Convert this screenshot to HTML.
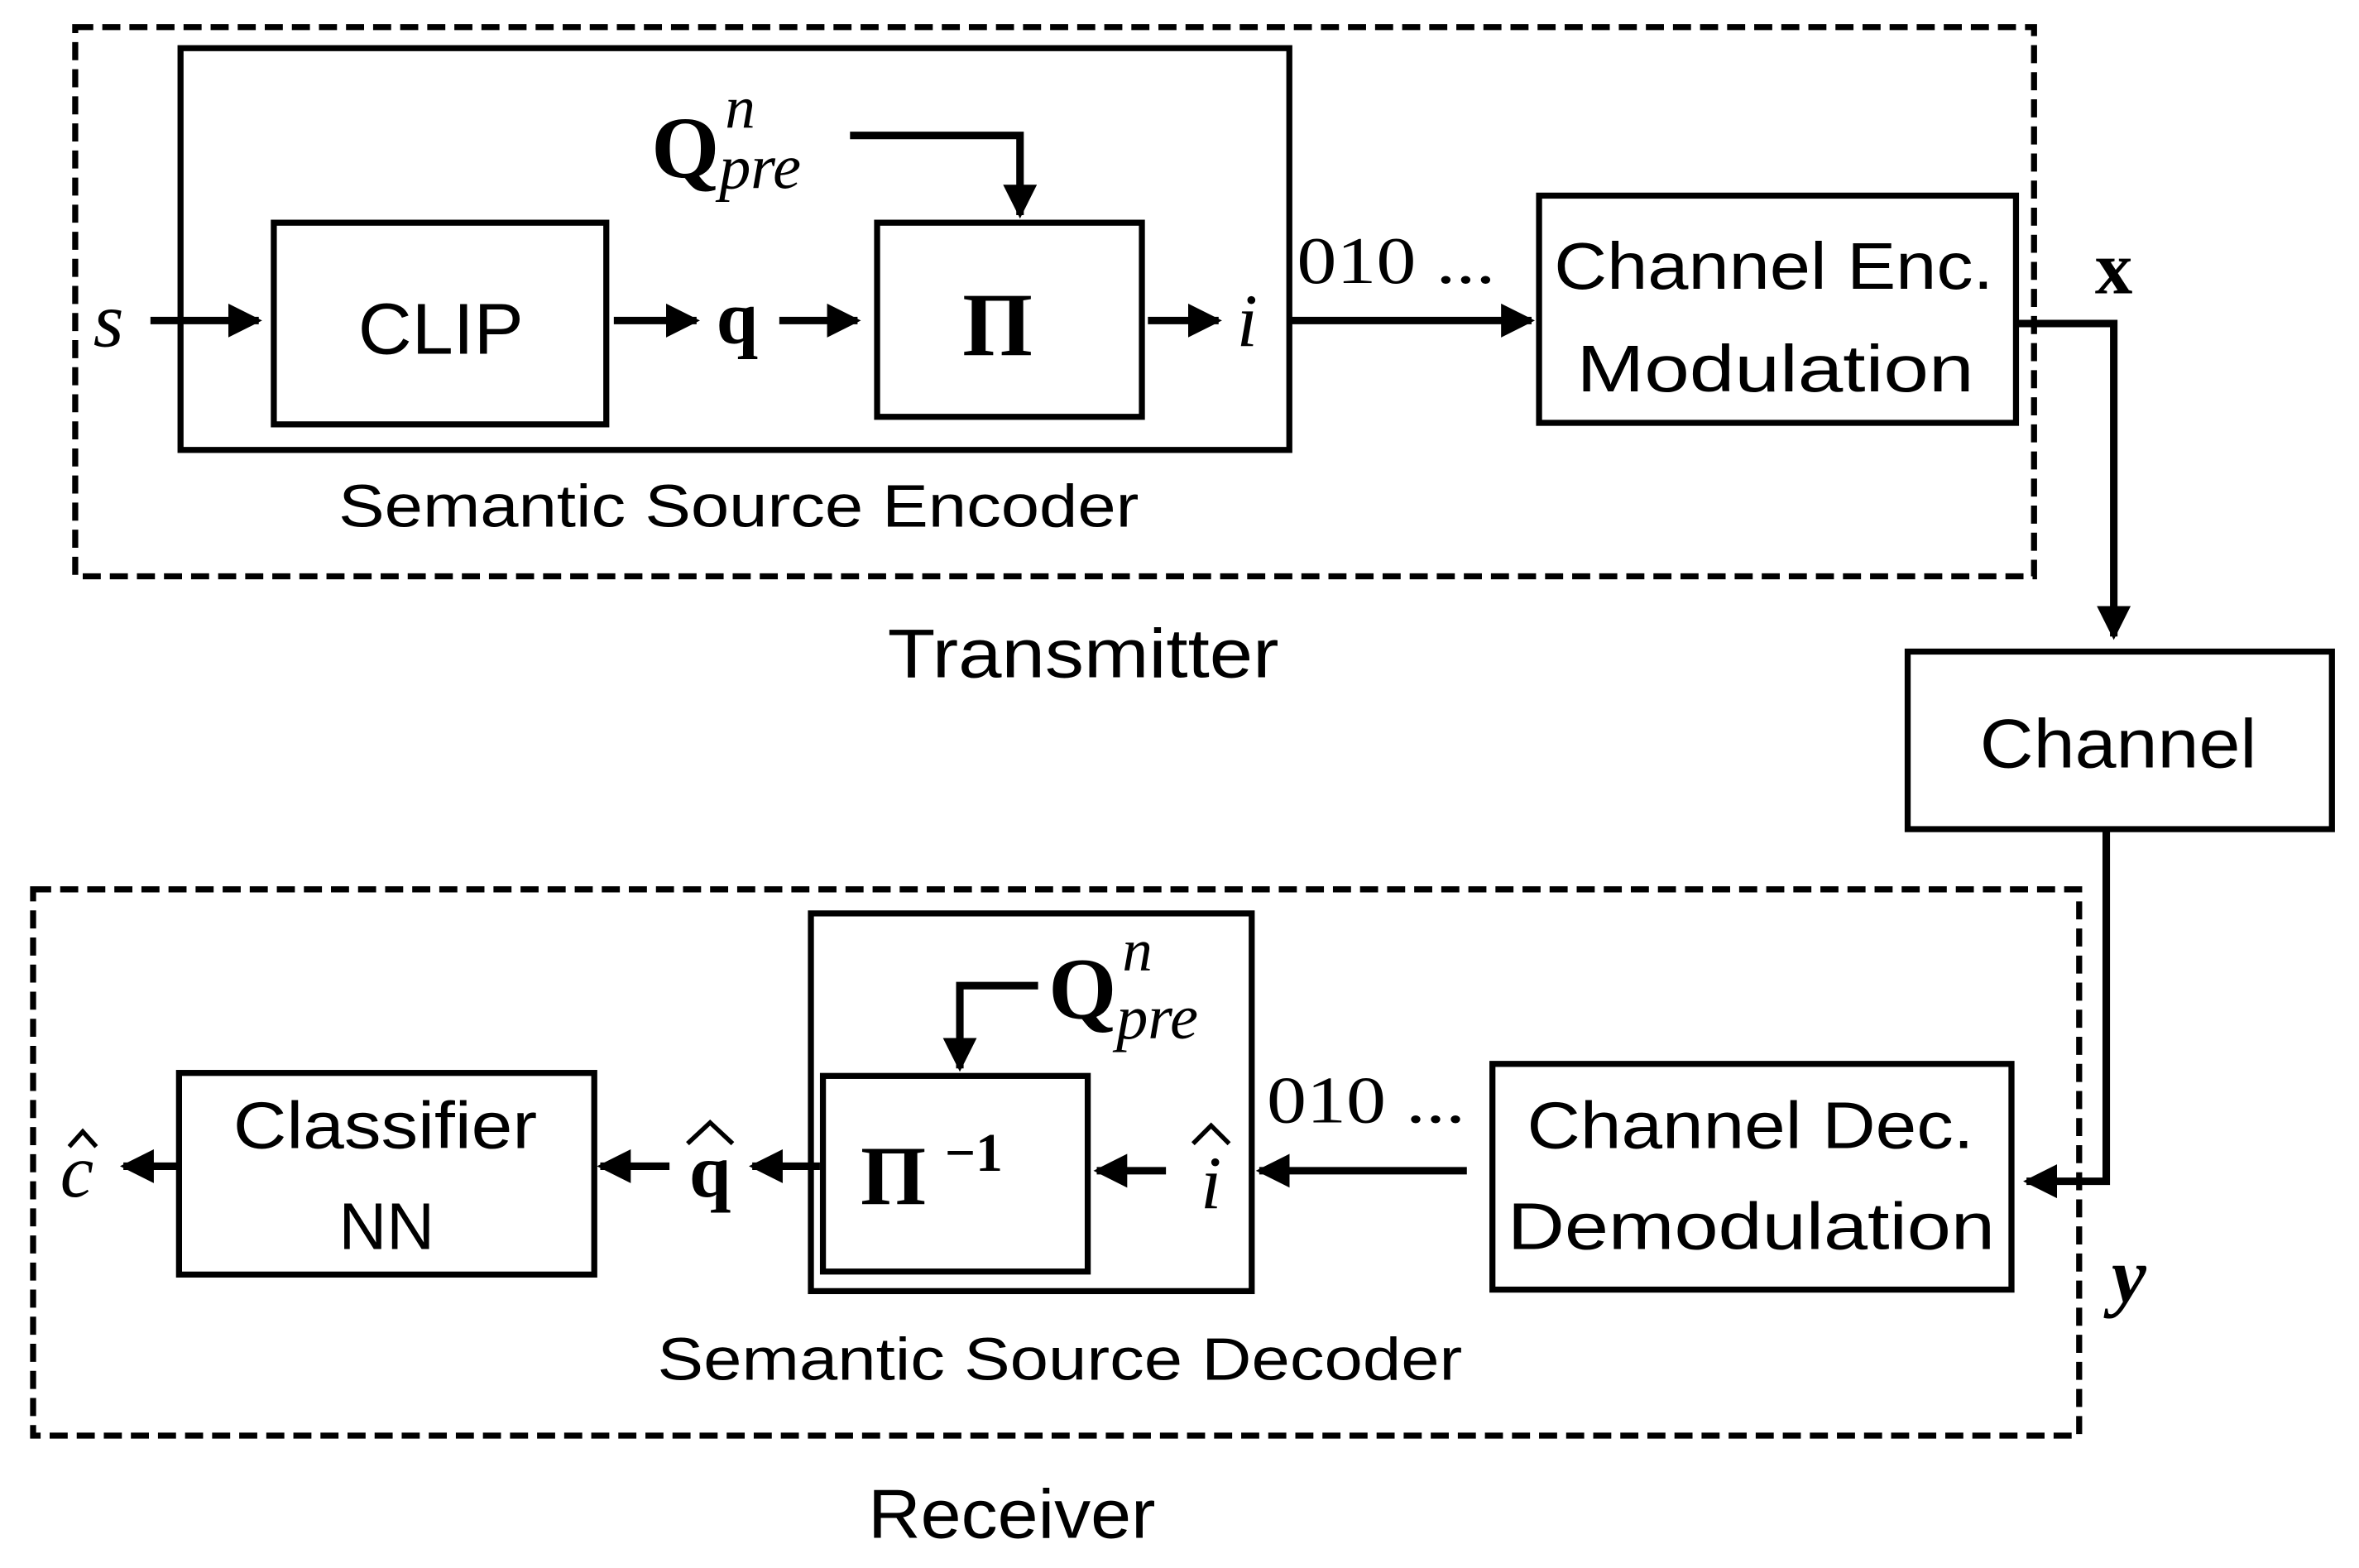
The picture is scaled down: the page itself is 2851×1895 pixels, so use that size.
<!DOCTYPE html>
<html><head><meta charset="utf-8"><style>
html,body{margin:0;padding:0;background:#fff;}
svg{display:block;}
text{font-family:"Liberation Sans",sans-serif;fill:#000;}
.s{font-family:"Liberation Serif",serif;}
</style></head><body>
<svg width="2851" height="1895" viewBox="0 0 1568 1042" preserveAspectRatio="none" xmlns="http://www.w3.org/2000/svg">
<defs>
<marker id="a" viewBox="0 0 10 10" refX="9" refY="5" markerWidth="4.5" markerHeight="4.5" orient="auto" markerUnits="strokeWidth"><path d="M0,0 L10,5 L0,10 z" fill="#000"/></marker>
</defs>
<g fill="none" stroke="#000" stroke-width="4">
<rect x="50" y="18" width="1302" height="365" stroke-dasharray="12,6"/>
<rect x="22" y="591" width="1360" height="363" stroke-dasharray="12,6"/>
<rect x="120" y="32" width="737" height="267"/>
<rect x="182" y="148" width="221" height="134"/>
<rect x="583" y="148" width="176" height="129"/>
<rect x="1023" y="130" width="317" height="151"/>
<rect x="1268" y="433" width="282" height="118"/>
<rect x="539" y="607" width="293" height="251"/>
<rect x="547" y="715" width="176" height="130"/>
<rect x="119" y="713" width="276" height="134"/>
<rect x="992" y="707" width="345" height="150"/>
<g stroke-width="5">
<line x1="100" y1="213" x2="172" y2="213" marker-end="url(#a)"/>
<line x1="408" y1="213" x2="463" y2="213" marker-end="url(#a)"/>
<line x1="518" y1="213" x2="570" y2="213" marker-end="url(#a)"/>
<line x1="763" y1="213" x2="810" y2="213" marker-end="url(#a)"/>
<line x1="857" y1="213" x2="1018" y2="213" marker-end="url(#a)"/>
<polyline points="565,90 678,90 678,143" marker-end="url(#a)"/>
<polyline points="1340,215 1405,215 1405,423" marker-end="url(#a)"/>
<polyline points="1400,551 1400,785 1347,785" marker-end="url(#a)"/>
<line x1="975" y1="778" x2="837" y2="778" marker-end="url(#a)"/>
<line x1="775" y1="778" x2="729" y2="778" marker-end="url(#a)"/>
<line x1="545" y1="775" x2="500" y2="775" marker-end="url(#a)"/>
<line x1="445" y1="775" x2="399" y2="775" marker-end="url(#a)"/>
<line x1="119" y1="775" x2="82" y2="775" marker-end="url(#a)"/>
<polyline points="690,655 638,655 638,710" marker-end="url(#a)"/>
</g>
</g>
<text x="62" y="230" class="s" font-size="52" font-style="italic">s</text>
<text x="238" y="235" font-size="48" textLength="110" lengthAdjust="spacingAndGlyphs">CLIP</text>
<text x="490" y="228" class="s" font-size="50" font-weight="bold" text-anchor="middle">q</text>
<text x="663" y="236" class="s" font-size="60" font-weight="bold" text-anchor="middle">Π</text>
<text x="822" y="230" class="s" font-size="50" font-style="italic">i</text>
<text x="433" y="118" class="s" font-size="58" font-weight="bold">Q</text>
<text x="482" y="85" class="s" font-size="40" font-style="italic">n</text>
<text x="478" y="125" class="s" font-size="42" font-style="italic">pre</text>
<text x="862" y="188" class="s" font-size="44" textLength="132" lengthAdjust="spacingAndGlyphs">010 ...</text>
<text x="1033" y="192" font-size="44" textLength="292" lengthAdjust="spacingAndGlyphs">Channel Enc.</text>
<text x="1048" y="260" font-size="44" textLength="264" lengthAdjust="spacingAndGlyphs">Modulation</text>
<text x="1405" y="195" class="s" font-size="50" font-weight="bold" text-anchor="middle">x</text>
<text x="225" y="350" font-size="40" textLength="532" lengthAdjust="spacingAndGlyphs">Semantic Source Encoder</text>
<text x="590" y="450" font-size="46" textLength="260" lengthAdjust="spacingAndGlyphs">Transmitter</text>
<text x="1316" y="510" font-size="46" textLength="184" lengthAdjust="spacingAndGlyphs">Channel</text>
<text x="1015" y="763" font-size="44" textLength="297" lengthAdjust="spacingAndGlyphs">Channel Dec.</text>
<text x="1002" y="830" font-size="44" textLength="324" lengthAdjust="spacingAndGlyphs">Demodulation</text>
<text x="1415" y="865" class="s" font-size="52" font-weight="bold" font-style="italic" text-anchor="middle">y</text>
<text x="842" y="746" class="s" font-size="44" textLength="132" lengthAdjust="spacingAndGlyphs">010 ...</text>
<text x="697" y="677" class="s" font-size="58" font-weight="bold">Q</text>
<text x="746" y="645" class="s" font-size="40" font-style="italic">n</text>
<text x="742" y="690" class="s" font-size="42" font-style="italic">pre</text>
<text x="572" y="800" class="s" font-size="56" font-weight="bold">Π</text>
<text x="628" y="778" class="s" font-size="36" font-weight="bold">−1</text>
<text x="798" y="803" class="s" font-size="50" font-style="italic">i</text>
<path d="M793,760 L805,748 L817,760" fill="none" stroke="#000" stroke-width="3"/>
<text x="472" y="795" class="s" font-size="50" font-weight="bold" text-anchor="middle">q</text>
<path d="M457,760 L472,746 L487,760" fill="none" stroke="#000" stroke-width="3"/>
<text x="155" y="763" font-size="44" textLength="202" lengthAdjust="spacingAndGlyphs">Classifier</text>
<text x="257" y="830" font-size="44" text-anchor="middle">NN</text>
<text x="40" y="795" class="s" font-size="50" font-style="italic">c</text>
<path d="M46,762 L55,752 L64,762" fill="none" stroke="#000" stroke-width="3"/>
<text x="437" y="917" font-size="40" textLength="535" lengthAdjust="spacingAndGlyphs">Semantic Source Decoder</text>
<text x="577" y="1022" font-size="46" textLength="191" lengthAdjust="spacingAndGlyphs">Receiver</text>
</svg>
</body></html>
